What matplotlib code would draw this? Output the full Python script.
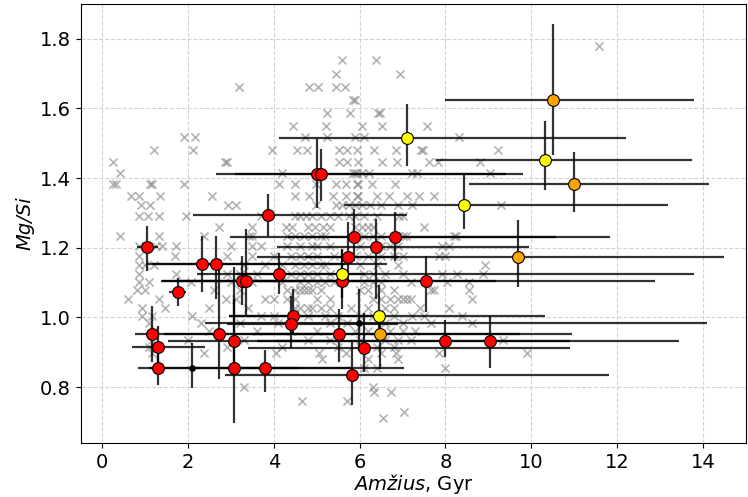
import numpy as np
from matplotlib import pyplot as plt

# background sample (gray crosses), grouped by Mg/Si level
gray_levels = [1.78, 1.74, 1.70, 1.661, 1.625, 1.587, 1.551, 1.518, 1.481, 1.446,
               1.415, 1.383, 1.35, 1.322, 1.29, 1.261, 1.235, 1.206, 1.175, 1.151,
               1.126, 1.102, 1.078, 1.053, 1.027, 1.003, 0.984, 0.96, 0.936, 0.915,
               0.898, 0.88, 0.855, 0.80, 0.785, 0.76, 0.729, 0.712]
gray_ages = [
    [11.58],
    [5.60, 6.37],
    [5.46, 6.94],
    [3.19, 4.82, 5.04, 5.44, 5.66],
    [5.85, 5.89],
    [5.25, 5.77, 6.43, 6.47],
    [4.45, 5.21, 6.06, 6.52, 7.58],
    [1.91, 2.17, 4.73, 5.25, 5.89, 6.09, 8.32],
    [1.20, 2.12, 3.95, 4.55, 4.78, 5.52, 5.71, 5.95, 6.34, 6.84, 7.44, 7.48, 9.23],
    [0.24, 2.86, 2.90, 5.52, 5.71, 5.97, 6.53, 6.88, 7.62, 7.83, 8.81],
    [0.42, 4.19, 5.85, 5.89, 5.95, 6.05, 6.22, 7.22, 7.34, 9.04],
    [0.24, 0.32, 1.11, 1.15, 1.91, 4.12, 4.50, 4.98, 5.44, 5.68, 5.93, 5.97, 6.28, 6.83],
    [0.67, 0.86, 1.35, 2.55, 4.50, 4.81, 5.38, 5.68, 5.93, 5.97, 6.41, 6.69, 7.11, 7.38, 7.73],
    [0.90, 1.12, 2.92, 3.11, 4.98, 5.44, 5.60, 5.75, 5.90, 6.05, 6.25, 6.50, 6.90, 7.21, 9.29],
    [0.86, 1.06, 1.33, 1.95, 3.70, 4.50, 4.60, 4.75, 4.90, 5.10, 5.30, 5.50, 5.75, 5.90,
     6.10, 6.40, 6.92, 7.00],
    [2.73, 3.50, 4.28, 4.43, 4.80, 4.95, 5.15, 5.30, 5.90, 6.05, 6.20, 6.30, 7.50],
    [0.42, 1.33, 2.38, 3.42, 3.48, 4.30, 4.50, 4.70, 4.90, 5.10, 5.20, 6.10, 6.30, 6.50,
     6.90, 7.00, 7.07, 8.20, 8.24],
    [0.86, 1.02, 1.25, 1.40, 1.72, 3.00, 3.50, 3.70, 4.30, 4.60, 4.90, 5.00, 5.30, 6.00,
     6.50, 6.70, 6.90, 7.93, 8.08],
    [0.86, 1.70, 2.90, 3.50, 4.00, 4.40, 4.60, 4.80, 5.00, 5.40, 5.90, 6.20, 6.50, 6.80,
     7.00, 7.85, 8.00],
    [0.86, 1.00, 1.20, 3.30, 3.80, 4.20, 4.50, 4.70, 4.90, 5.10, 5.20, 6.00, 6.40, 6.90, 8.92],
    [0.86, 1.72, 2.90, 3.20, 3.60, 4.40, 4.60, 4.80, 5.00, 5.30, 6.10, 6.30, 6.60, 7.00,
     7.93, 8.28, 8.88],
    [0.86, 1.10, 2.07, 3.00, 3.50, 4.20, 4.60, 4.80, 5.00, 5.20, 5.40, 6.10, 6.30, 6.50,
     7.20, 8.04, 8.55],
    [0.82, 1.00, 2.60, 3.20, 4.30, 4.50, 4.60, 4.70, 4.80, 4.90, 5.10, 6.00, 6.20, 6.50,
     6.80, 7.66, 7.73, 8.55],
    [0.61, 1.33, 2.88, 3.11, 3.80, 4.00, 4.30, 4.50, 5.00, 5.30, 6.30, 6.50, 6.70, 6.90,
     7.00, 7.10, 7.20, 8.63],
    [0.93, 1.47, 2.50, 3.40, 4.50, 4.60, 4.80, 4.90, 5.10, 5.30, 5.80, 6.20, 6.60, 6.80,
     7.40, 8.08],
    [0.93, 1.15, 2.10, 3.70, 4.00, 4.80, 5.20, 5.50, 6.00, 6.30, 6.80, 7.23, 7.50, 8.38],
    [1.10, 2.30, 3.20, 4.10, 5.30, 5.70, 6.60, 7.00, 7.66, 8.63],
    [1.20, 2.50, 3.60, 4.40, 5.00, 5.90, 6.20, 6.70, 7.00, 7.30],
    [1.15, 2.00, 3.30, 4.80, 5.30, 6.00, 6.60, 6.90, 7.20, 9.33],
    [1.10, 2.90, 4.20, 5.50, 6.40, 6.80],
    [1.15, 2.38, 4.05, 5.05, 5.68, 6.50, 6.85, 7.85, 9.91],
    [5.12, 6.20, 6.90],
    [6.10, 6.40, 8.00],
    [3.31, 6.30],
    [6.33, 6.72],
    [4.65, 5.70],
    [7.03],
    [6.55],
]

# red stars: age, Mg/Si, age err (low, high), Mg/Si err (low, high)
red_age = [1.05, 3.87, 5.00, 5.10, 2.33, 2.66, 3.25, 3.35, 4.12, 1.76,
           1.15, 1.29, 1.29, 2.73, 3.08, 3.06, 3.79, 4.45, 4.40, 5.53,
           5.82, 6.10, 5.88, 6.83, 6.38, 5.72, 5.58, 7.54, 8.00, 9.04]
red_mgsi = [1.203, 1.295, 1.413, 1.413, 1.154, 1.154, 1.105, 1.105, 1.126, 1.074,
            0.953, 0.914, 0.856, 0.953, 0.933, 0.856, 0.856, 1.003, 0.981, 0.953,
            0.835, 0.913, 1.232, 1.232, 1.203, 1.174, 1.105, 1.105, 0.933, 0.933]
red_age_lo = [0.25, 1.75, 2.35, 2.0, 1.3, 1.5, 1.5, 1.96, 1.0, 0.2,
              0.38, 0.6, 0.45, 1.3, 1.54, 1.0, 1.0, 1.5, 1.5, 2.0,
              2.95, 2.7, 2.9, 2.5, 2.3, 1.0, 4.2, 4.0, 4.4, 5.0]
red_age_hi = [0.25, 3.24, 4.8, 4.3, 4.3, 3.0, 2.5, 3.3, 2.0, 0.2,
              1.8, 1.1, 1.0, 2.6, 2.5, 1.5, 2.0, 2.0, 2.5, 4.2,
              6.0, 4.8, 4.7, 5.0, 3.57, 1.2, 3.6, 5.35, 2.9, 4.4]
red_mgsi_lo = [0.07, 0.06, 0.10, 0.08, 0.08, 0.10, 0.07, 0.10, 0.06, 0.04,
               0.08, 0.06, 0.05, 0.13, 0.10, 0.16, 0.07, 0.05, 0.07, 0.08,
               0.085, 0.07, 0.07, 0.07, 0.15, 0.07, 0.08, 0.09, 0.047, 0.077]
red_mgsi_hi = [0.06, 0.06, 0.10, 0.07, 0.08, 0.08, 0.07, 0.15, 0.06, 0.04,
               0.08, 0.06, 0.05, 0.20, 0.12, 0.29, 0.05, 0.08, 0.08, 0.07,
               0.10, 0.10, 0.08, 0.07, 0.08, 0.10, 0.09, 0.07, 0.06, 0.07]

yellow_age = [7.11, 10.33, 8.43, 5.60, 6.45]
yellow_mgsi = [1.515, 1.453, 1.322, 1.126, 1.003]
yellow_age_lo = [3.0, 2.56, 2.8, 3.4, 3.5]
yellow_age_hi = [5.1, 3.41, 4.75, 8.2, 3.88]
yellow_mgsi_lo = [0.081, 0.088, 0.067, 0.07, 0.06]
yellow_mgsi_hi = [0.098, 0.11, 0.09, 0.07, 0.09]

orange_age = [10.51, 11.00, 9.70, 6.48]
orange_mgsi = [1.623, 1.384, 1.174, 0.953]
orange_age_lo = [2.51, 2.45, 6.1, 3.5]
orange_age_hi = [3.28, 3.14, 4.8, 4.47]
orange_mgsi_lo = [0.156, 0.08, 0.088, 0.10]
orange_mgsi_hi = [0.22, 0.09, 0.107, 0.06]

black_age = [2.09, 5.99]
black_mgsi = [0.856, 0.983]
black_age_lo = [1.0, 3.6]
black_age_hi = [4.94, 8.1]
black_mgsi_lo = [0.06, 0.08]
black_mgsi_hi = [0.07, 0.10]

gx = []
gy = []
for lvl, ages in zip(gray_levels, gray_ages):
    gx += ages
    gy += [lvl] * len(ages)

plt.figure(figsize=(7.48, 4.97), dpi=100)
ax = plt.axes([0.108, 0.109, 0.889, 0.883])

ax.scatter(gx, gy, marker="x", color="gray", alpha=0.6, s=34, linewidths=1.2, zorder=2)

groups = [
    (black_age, black_mgsi, black_age_lo, black_age_hi, black_mgsi_lo, black_mgsi_hi, "black", 4),
    (red_age, red_mgsi, red_age_lo, red_age_hi, red_mgsi_lo, red_mgsi_hi, "red", 8.5),
    (yellow_age, yellow_mgsi, yellow_age_lo, yellow_age_hi, yellow_mgsi_lo, yellow_mgsi_hi, "yellow", 8.5),
    (orange_age, orange_mgsi, orange_age_lo, orange_age_hi, orange_mgsi_lo, orange_mgsi_hi, "orange", 8.5),
]
for xs, ys, xlo, xhi, ylo, yhi, col, ms in groups:
    ax.errorbar(xs, ys, xerr=[xlo, xhi], yerr=[ylo, yhi], fmt="none",
                ecolor="black", elinewidth=1.6, alpha=0.8, zorder=3)
for xs, ys, xlo, xhi, ylo, yhi, col, ms in groups:
    ax.plot(xs, ys, "o", color=col, markeredgecolor="black", markeredgewidth=0.8,
            markersize=ms, linestyle="none", zorder=4)

ax.set_xlim(-0.5, 15)
ax.set_ylim(0.64, 1.9)
ax.set_xticks(range(0, 15, 2))
ax.set_yticks([0.8, 1.0, 1.2, 1.4, 1.6, 1.8])
ax.tick_params(labelsize=14)
ax.grid(True, linestyle="--", color="lightgray", linewidth=0.8, zorder=0)
ax.set_axisbelow(True)

ax.set_xlabel(r"$\it{Amžius}$, Gyr", fontsize=14, labelpad=0)
ax.set_ylabel("Mg/Si", fontsize=14, fontstyle="italic")

plt.savefig("out.png", dpi=100)
